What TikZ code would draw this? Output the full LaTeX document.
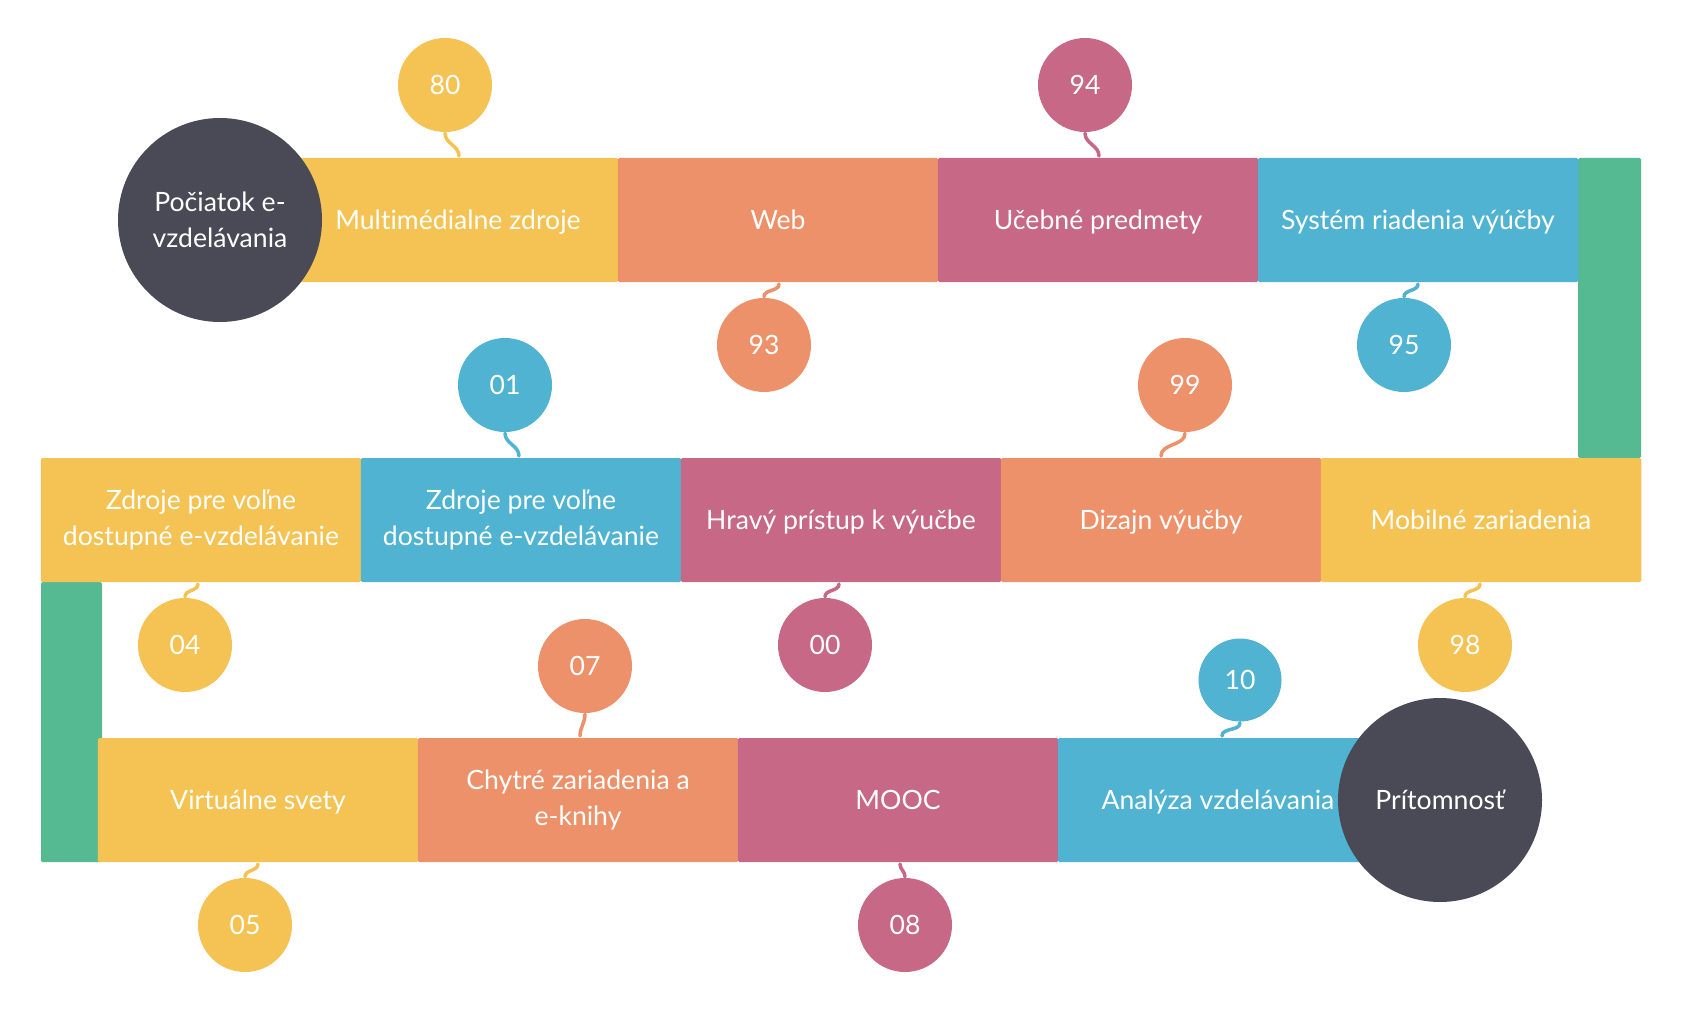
\documentclass[tikz,border=0pt]{standalone}
\usepackage{fontspec}
\setmainfont{Lato}[Ligatures={NoCommon}]
\definecolor{cyel}{HTML}{F4C353}
\definecolor{cora}{HTML}{ED916A}
\definecolor{cpink}{HTML}{C66886}
\definecolor{cblue}{HTML}{50B3D2}
\definecolor{cgreen}{HTML}{55BA92}
\definecolor{cdark}{HTML}{494A56}
\newcommand\lblfont{\fontsize{26.6}{36}\selectfont}
\begin{document}
\begin{tikzpicture}[x=1pt,y=-1pt,
  txt/.style={text=white, font=\lblfont},
  oneline/.style={text height=22pt, text depth=3pt},
  cell/.style={txt, minimum width=320.5pt, minimum height=124pt, inner sep=0pt, align=center, rounded corners=1.5pt},
  greenbar/.style={fill=cgreen, inner sep=0pt, rounded corners=1.5pt},
  numc/.style={txt, oneline, circle, minimum size=94pt, inner sep=0pt},
  smallc/.style={txt, oneline, circle, minimum size=83pt, inner sep=0pt},
  darkc/.style={txt, circle, fill=cdark, minimum size=204pt, inner sep=0pt, align=center},
  wire/.style={line width=3.5pt, line cap=round}
]
\useasboundingbox[fill=white] (0,0) rectangle (1681,1011);

% green vertical bars
\node[greenbar, minimum width=63pt, minimum height=300pt] (gr) at (1609.5,308) {};
\node[greenbar, minimum width=61pt, minimum height=280pt] (gl) at (71.5,722) {};

% top row
\node[cell, oneline, fill=cyel] (t1) at (458,220) {Multimédialne zdroje};
\node[cell, oneline, fill=cora] (t2) at (778,220) {Web};
\node[cell, oneline, fill=cpink] (t3) at (1098,220) {Učebné predmety};
\node[cell, oneline, fill=cblue] (t4) at (1418,220) {Systém riadenia výúčby};

% middle row
\node[cell, fill=cyel] (m1) at (201,520) {Zdroje pre voľne\\dostupné e-vzdelávanie};
\node[cell, fill=cblue] (m2) at (521,520) {Zdroje pre voľne\\dostupné e-vzdelávanie};
\node[cell, oneline, fill=cpink] (m3) at (841,520) {Hravý prístup k výučbe};
\node[cell, oneline, fill=cora] (m4) at (1161,520) {Dizajn výučby};
\node[cell, oneline, fill=cyel] (m5) at (1481,520) {Mobilné zariadenia};

% bottom row
\node[cell, oneline, fill=cyel] (b1) at (258,800) {Virtuálne svety};
\node[cell, fill=cora] (b2) at (578,800) {Chytré zariadenia a\\e-knihy};
\node[cell, oneline, fill=cpink] (b3) at (898,800) {MOOC};
\node[cell, oneline, fill=cblue] (b4) at (1218,800) {Analýza vzdelávania};

% number circles
\node[numc, fill=cyel] (c80) at (445,85) {80};
\node[numc, fill=cpink] (c94) at (1085,85) {94};
\node[numc, fill=cora] (c93) at (764,345) {93};
\node[numc, fill=cblue] (c95) at (1404,345) {95};
\node[numc, fill=cblue] (c01) at (505,385) {01};
\node[numc, fill=cora] (c99) at (1185,385) {99};
\node[numc, fill=cyel] (c04) at (185,645) {04};
\node[numc, fill=cpink] (c00) at (825,645) {00};
\node[numc, fill=cyel] (c98) at (1465,645) {98};
\node[numc, fill=cora] (c07) at (585,666) {07};
\node[smallc, fill=cblue] (c10) at (1240,680) {10};
\node[numc, fill=cyel] (c05) at (245,925) {05};
\node[numc, fill=cpink] (c08) at (905,925) {08};

% connector ends on the bars
\coordinate (k80) at (459,158);
\coordinate (k94) at (1099,158);
\coordinate (k93) at (779,282);
\coordinate (k95) at (1418,282);
\coordinate (k01) at (519,458);
\coordinate (k99) at (1161,458);
\coordinate (k04) at (198,582);
\coordinate (k00) at (839,582);
\coordinate (k98) at (1480,582);
\coordinate (k07) at (580,738);
\coordinate (k10) at (1222,738);
\coordinate (k05) at (258,862);
\coordinate (k08) at (900,862);

% connectors (circle above bar)
\draw[wire, cyel]  ([yshift=-1pt]c80.south) to[out=-90,in=90] ([yshift=2pt]k80);
\draw[wire, cpink] ([yshift=-1pt]c94.south) to[out=-90,in=90] ([yshift=2pt]k94);
\draw[wire, cblue] ([yshift=-1pt]c01.south) to[out=-90,in=90] ([yshift=2pt]k01);
\draw[wire, cora]  ([yshift=-1pt]c99.south) to[out=-90,in=90] ([yshift=2pt]k99);
\draw[wire, cora]  ([yshift=-1pt]c07.south) to[out=-90,in=90] ([yshift=2pt]k07);
\draw[wire, cblue] ([yshift=-1pt]c10.south) to[out=-90,in=90] ([yshift=2pt]k10);
% connectors (circle below bar)
\draw[wire, cora]  ([yshift=1pt]c93.north) to[out=90,in=-90] ([yshift=-2pt]k93);
\draw[wire, cblue] ([yshift=1pt]c95.north) to[out=90,in=-90] ([yshift=-2pt]k95);
\draw[wire, cyel]  ([yshift=1pt]c04.north) to[out=90,in=-90] ([yshift=-2pt]k04);
\draw[wire, cpink] ([yshift=1pt]c00.north) to[out=90,in=-90] ([yshift=-2pt]k00);
\draw[wire, cyel]  ([yshift=1pt]c98.north) to[out=90,in=-90] ([yshift=-2pt]k98);
\draw[wire, cyel]  ([yshift=1pt]c05.north) to[out=90,in=-90] ([yshift=-2pt]k05);
\draw[wire, cpink] ([yshift=1pt]c08.north) to[out=90,in=-90] ([yshift=-2pt]k08);

% start and end circles
\node[darkc] (start) at (220,220) {Počiatok e-\\vzdelávania};
\node[darkc, oneline] (end) at (1440,800) {Prítomnosť};
\end{tikzpicture}
\end{document}
